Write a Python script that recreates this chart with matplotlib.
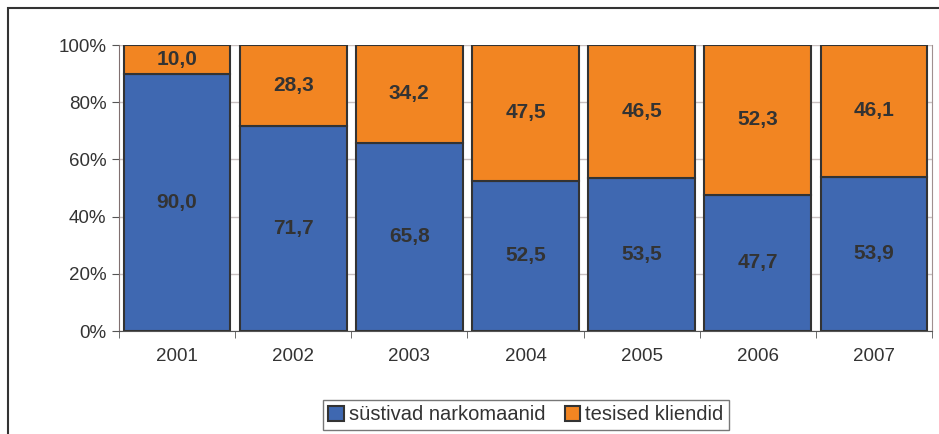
import matplotlib.pyplot as plt
import numpy as np
from matplotlib.patches import Rectangle

plt.rcParams['font.family'] = ['Liberation Sans', 'DejaVu Sans']

years = ['2001', '2002', '2003', '2004', '2005', '2006', '2007']
injecting = [90.0, 71.7, 65.8, 52.5, 53.5, 47.7, 53.9]
others = [10.0, 28.3, 34.2, 47.5, 46.5, 52.3, 46.1]

blue = '#3F68B1'
orange = '#F28522'
edge = '#333333'

fig = plt.figure(figsize=(9.39, 4.34), dpi=100)
ax = fig.add_axes([119 / 939, 1 - 331 / 434, 813 / 939, 286 / 434])

x = np.arange(len(years))
ax.bar(x, injecting, width=0.92, color=blue, edgecolor=edge, linewidth=1.5,
       label='süstivad narkomaanid', zorder=3)
ax.bar(x, others, width=0.92, bottom=injecting, color=orange, edgecolor=edge,
       linewidth=1.5, label='tesised kliendid', zorder=3)

for i in range(len(years)):
    ax.text(x[i], injecting[i] / 2, f'{injecting[i]:.1f}'.replace('.', ','),
            ha='center', va='center', fontsize=15, fontweight='bold', color='#333333', zorder=4)
    ax.text(x[i], injecting[i] + others[i] / 2, f'{others[i]:.1f}'.replace('.', ','),
            ha='center', va='center', fontsize=15, fontweight='bold', color='#333333', zorder=4)

ax.set_xlim(-0.5, len(years) - 0.5)
ax.set_ylim(0, 100)
ax.set_yticks([0, 20, 40, 60, 80, 100])
ax.set_yticklabels(['0%', '20%', '40%', '60%', '80%', '100%'], fontsize=13.5, color='#333333')
ax.set_xticks(x)
ax.set_xticklabels(years, fontsize=13.5, color='#333333')
ax.set_xticks(np.arange(-0.5, len(years)), minor=True)
ax.tick_params(axis='x', which='major', length=0, pad=12)
ax.tick_params(axis='x', which='minor', length=5, color='#555555')
ax.tick_params(axis='y', length=5, color='#555555', pad=4)
ax.grid(axis='y', color='#c8c0c0', linewidth=1, zorder=0)

ax.spines['top'].set_visible(False)
ax.spines['right'].set_color('#a09090')
ax.spines['left'].set_color('#807070')
ax.spines['bottom'].set_color('#555555')

leg = fig.legend(loc='center', bbox_to_anchor=(526 / 939, 1 - 415 / 434), ncol=2,
                 fontsize=14.5, frameon=True, fancybox=False, handlelength=0.75,
                 handleheight=0.75, handletextpad=0.25, columnspacing=1.0,
                 borderpad=0.25, borderaxespad=0, edgecolor='#555555')
leg.get_frame().set_linewidth(1.0)
for t in leg.get_texts():
    t.set_color('#333333')

fig.patches.append(Rectangle((8 / 939, -0.1), 1.2, 1 - 8 / 434 + 0.1,
                             transform=fig.transFigure, fill=False,
                             edgecolor='#333333', linewidth=1.5))

fig.savefig('out.png', dpi=100)
